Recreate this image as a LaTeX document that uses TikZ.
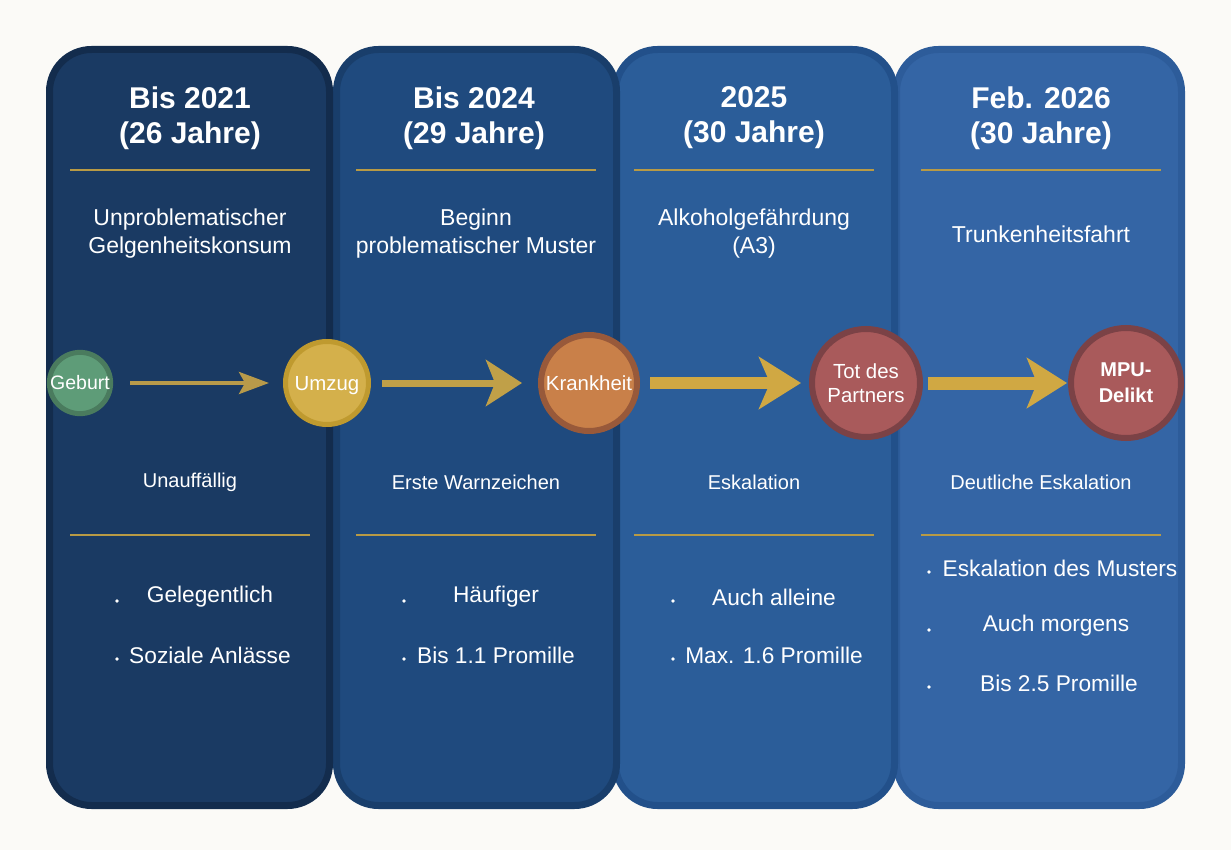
\documentclass[tikz,border=0pt]{standalone}
\usepackage{fontspec}
\setmainfont{Liberation Sans}
\usetikzlibrary{arrows.meta}
\definecolor{bg}{HTML}{FBFAF7}
\definecolor{cfA}{HTML}{1A3A63}\definecolor{cbA}{HTML}{132C4D}
\definecolor{cfB}{HTML}{1F4A7E}\definecolor{cbB}{HTML}{193E6B}
\definecolor{cfC}{HTML}{2B5D99}\definecolor{cbC}{HTML}{22508A}
\definecolor{cfD}{HTML}{3465A5}\definecolor{cbD}{HTML}{2D5C9A}
\definecolor{gold}{HTML}{B89A45}
\definecolor{arrA}{HTML}{B89A4A}
\definecolor{arrB}{HTML}{C0A048}
\definecolor{arrC}{HTML}{D0A843}
\definecolor{gfill}{HTML}{5E9C78}\definecolor{gline}{HTML}{4A7B5E}
\definecolor{ufill}{HTML}{D4B04B}\definecolor{uline}{HTML}{BF9A2F}
\definecolor{kfill}{HTML}{C98049}\definecolor{kline}{HTML}{98593A}
\definecolor{rfill}{HTML}{A95A5B}\definecolor{rline}{HTML}{7B4246}
\begin{document}
\begin{tikzpicture}[x=1pt,y=-1pt,
  colbox/.style={rounded corners=42pt, line width=7pt},
  title/.style={text=white, font=\fontsize{30}{35}\selectfont\bfseries, align=center},
  sub/.style={text=white, font=\fontsize{23}{28}\selectfont, align=center},
  lbl/.style={text=white, font=\fontsize{20}{22}\selectfont},
  item/.style={text=white, font=\fontsize{22.7}{24}\selectfont},
  dot/.style={circle, fill=white, inner sep=0pt, minimum size=3.6pt},
  goldline/.style={draw=gold, line width=2pt},
  event/.style={circle, line width=5pt, text=white, align=center, inner sep=0pt, font=\fontsize{20.4}{24}\selectfont},
  flat/.style={text depth=0pt}
]
\useasboundingbox (0,0) rectangle (1231,850);
\fill[bg] (0,0) rectangle (1231,850);
% columns (drawn right to left)
\draw[colbox, fill=cfD, draw=cbD] (896.5,49.5) rectangle (1181.5,805.5);
\draw[colbox, fill=cfC, draw=cbC] (615.5,49.5) rectangle (894.5,805.5);
\draw[colbox, fill=cfB, draw=cbB] (336.5,49.5) rectangle (616.5,805.5);
\draw[colbox, fill=cfA, draw=cbA] (49.5,49.5) rectangle (329.5,805.5);
% titles
\node[title] (t1) at (190,118) {Bis 2021\\(26 Jahre)};
\node[title] (t2) at (474,118) {Bis 2024\\(29 Jahre)};
\node[title] (t3) at (754,118) {2025\\(30 Jahre)};
\node[title] (t4) at (1041,118) {Feb. 2026\\(30 Jahre)};
% gold lines
\foreach \a/\b [count=\i] in {70/310,356/596,634/874,921/1161}{
  \draw[goldline] (\a,170) coordinate (gu\i) -- (\b,170);
  \draw[goldline] (\a,535) coordinate (gl\i) -- (\b,535);
}
% subtitles
\node[sub] (s1) at (190,234) {Unproblematischer\\Gelgenheitskonsum};
\node[sub] (s2) at (476,234) {Beginn\\problematischer Muster};
\node[sub] (s3) at (754,234) {Alkoholgefährdung\\(A3)};
\node[sub] (s4) at (1041,234) {Trunkenheitsfahrt};
% events
\node[event, fill=gfill, draw=gline, minimum size=61pt, font=\fontsize{19.5}{24}\selectfont] (geburt) at (80,383) {Geburt};
\node[event, flat, fill=ufill, draw=uline, minimum size=83pt] (umzug) at (327,383) {Umzug};
\node[event, fill=kfill, draw=kline, minimum size=96pt, line width=6pt] (krank) at (589,383) {Krankheit};
\node[event, fill=rfill, draw=rline, minimum size=108pt, line width=6pt] (tot) at (866,383) {Tot des\\Partners};
\node[event, fill=rfill, draw=rline, minimum size=110pt, line width=6pt, font=\fontsize{20}{26}\selectfont\bfseries] (mpu) at (1126,383) {MPU-\\Delikt};
% arrows
\draw[-{Stealth[length=30pt,width=22pt,inset=6pt]}, draw=arrA, fill=arrA, line width=4pt, shorten <=17pt, shorten >=14pt] (geburt) -- (umzug);
\draw[-{Stealth[length=36pt,width=46pt,inset=9pt]}, draw=arrB, fill=arrB, line width=7pt, shorten <=11pt, shorten >=16pt] (umzug) -- (krank);
\draw[-{Stealth[length=42pt,width=52pt,inset=11pt]}, draw=arrC, fill=arrC, line width=12pt, shorten <=10pt, shorten >=8pt] (krank) -- (tot);
\draw[-{Stealth[length=40pt,width=50pt,inset=10pt]}, draw=arrC, fill=arrC, line width=13pt, shorten <=5pt, shorten >=1pt] (tot) -- (mpu);
% labels
\node[lbl] (l1) at (190,482) {Unauffällig};
\node[lbl] (l2) at (476,482) {Erste Warnzeichen};
\node[lbl] (l3) at (754,482) {Eskalation};
\node[lbl] (l4) at (1041,482) {Deutliche Eskalation};
% bullet items
\node[item] (i11) at (210,597) {Gelegentlich};
\node[item] (i12) at (210,655) {Soziale Anlässe};
\node[dot] (d11) at (117,601) {}; \node[dot] (d12) at (117,659) {};
\node[item] (i21) at (496,597) {Häufiger};
\node[item] (i22) at (496,655) {Bis 1.1 Promille};
\node[dot] (d21) at (404,601) {}; \node[dot] (d22) at (404,659) {};
\node[item] (i31) at (774,597) {Auch alleine};
\node[item] (i32) at (774,655) {Max. 1.6 Promille};
\node[dot] (d31) at (673,601) {}; \node[dot] (d32) at (673,659) {};
\node[item] (i41) at (1060,568) {Eskalation des Musters};
\node[item] (i42) at (1056,626) {Auch morgens};
\node[item] (i43) at (1059,683) {Bis 2.5 Promille};
\node[dot] (d41) at (929,572) {}; \node[dot] (d42) at (929,630) {}; \node[dot] (d43) at (929,687) {};
\end{tikzpicture}
\end{document}
